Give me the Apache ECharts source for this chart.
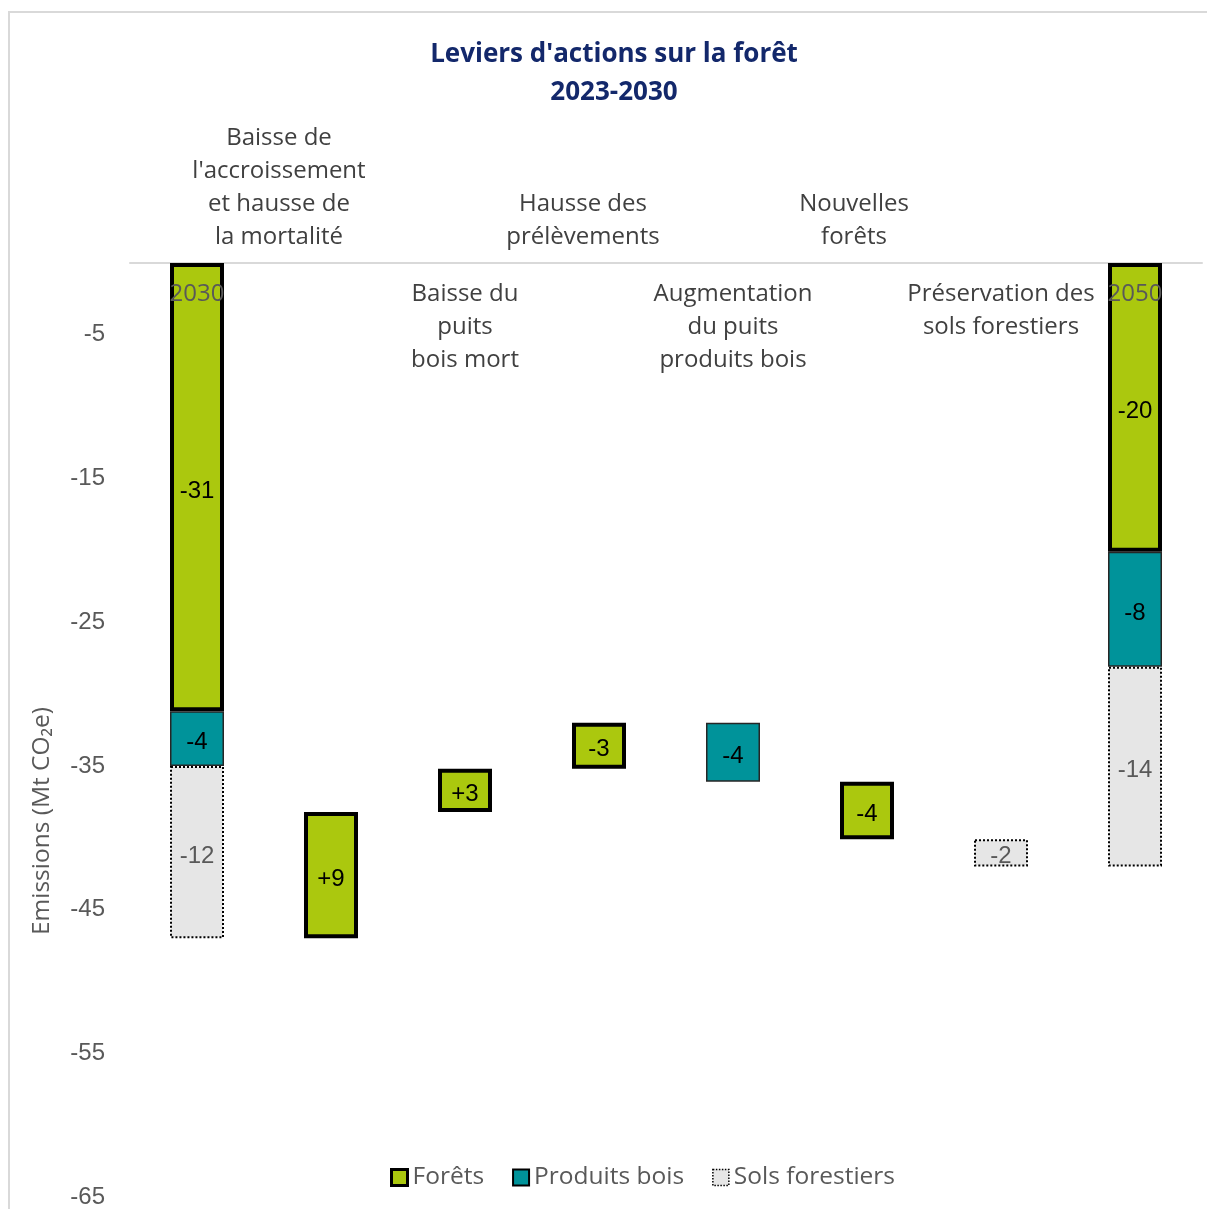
<!DOCTYPE html>
<html>
<head>
<meta charset="utf-8">
<script src="https://cdn.jsdelivr.net/npm/echarts@6/dist/echarts.min.js"></script>
<style>
  html, body { margin: 0; padding: 0; background: #fff; }
  #chart { width: 1207px; height: 1209px; }
</style>
</head>
<body>
<div id="chart"></div>
<script>
const categories = [
  '2030',
  "Baisse de\nl'accroissement\net hausse de\nla mortalité",
  'Baisse du\npuits\nbois mort',
  'Hausse des\nprélèvements',
  'Augmentation\ndu puits\nproduits bois',
  'Nouvelles\nforêts',
  'Préservation des\nsols forestiers',
  '2050'
]
// top of each floating box (invisible base of the stack)
const baseValues = ['-', -38.2, -35.2, -32.0, -32.0, -36.1, -40.1, '-']
const foretsValues = [-31.2, -8.8, -3.0, -3.2, '-', -4.0, '-', -20.1]
const produitsValues = [-3.8, '-', '-', '-', -4.1, '-', '-', -8.0]
const solsValues = [-12.0, '-', '-', '-', '-', '-', -1.9, -13.9]
// labels printed in the boxes
const foretsLabels = ['-31', '+9', '+3', '-3', '', '-4', '', '-20']
const produitsLabels = ['-4', '', '', '', '-4', '', '', '-8']
const solsLabels = ['-12', '', '', '', '', '', '-2', '-14']
// y axis
const yMin = -65
const yMax = 0
const yStep = 10

const catFont = '"Open Sans", sans-serif'
const numFont = '"Liberation Sans", Arial, sans-serif'
const catText = { fontSize: 24, lineHeight: 33, color: '#404040', fontFamily: catFont }

// step labels above the axis line, the others hang below it
const isAbove = i => i % 2 === 1 && i < categories.length - 1

const boxLabel = (color, texts) => ({
  show: true,
  position: 'inside',
  offset: [0, 4],
  color: color,
  fontSize: 24,
  fontFamily: numFont,
  formatter: p => texts[p.dataIndex]
})

const chart = echarts.init(document.getElementById('chart'))

const option = {
  animation: false,
  title: {
    text: "Leviers d'actions sur la forêt\n2023-2030",
    left: 609,
    top: 31,
    textAlign: 'center',
    textStyle: {
      color: '#13286b',
      fontFamily: catFont,
      fontWeight: 'bold',
      fontSize: 26,
      lineHeight: 38
    }
  },
  grid: {
    left: 130,
    right: 5,
    top: 263,
    bottom: 10
  },
  legend: {
    data: [
      { name: 'Forêts', itemStyle: { color: '#abc80e', borderColor: '#000', borderWidth: 3 } },
      { name: 'Produits bois', itemStyle: { color: '#00939a', borderColor: '#000', borderWidth: 2 } },
      { name: 'Sols forestiers', itemStyle: { color: '#e6e6e6', borderColor: '#000', borderWidth: 1.5, borderType: 'dotted' } }
    ],
    left: 385,
    top: 1160,
    itemWidth: 16,
    itemHeight: 16,
    itemGap: 28,
    icon: 'rect',
    textStyle: {
      color: '#595959',
      fontSize: 24.5,
      fontFamily: catFont
    }
  },
  xAxis: [
    {
      type: 'category',
      data: categories,
      position: 'top',
      axisLine: { onZero: false, lineStyle: { color: '#d9d9d9', width: 2 } },
      axisTick: { show: false },
      axisLabel: Object.assign({}, catText, {
        interval: 0,
        margin: 9,
        formatter: (v, i) => isAbove(i) ? v.split('\n').map(s => '{s' + i + '|' + s + '}').join('\n') : '',
        // these text boxes sit a little left of their bars
        rich: {
          s1: Object.assign({ padding: [0, 104, 0, 0] }, catText),
          s3: Object.assign({ padding: [0, 32, 0, 0] }, catText),
          s5: Object.assign({ padding: [0, 26, 0, 0] }, catText)
        }
      })
    },
    {
      type: 'category',
      data: categories,
      position: 'bottom',
      offset: -936,
      z: 10,
      axisLine: { show: false, onZero: false },
      axisTick: { show: false },
      axisLabel: Object.assign({}, catText, {
        interval: 0,
        margin: 17,
        color: (v, i) => (i === 0 || i === categories.length - 1) ? '#595959' : '#404040',
        formatter: (v, i) => isAbove(i) ? '' : v
      })
    }
  ],
  yAxis: {
    type: 'value',
    min: yMin,
    max: yMax,
    interval: yStep,
    splitLine: { show: false },
    axisLine: { show: false },
    axisTick: { show: false },
    axisLabel: {
      margin: 25,
      padding: [6, 0, 0, 0],
      fontSize: 24,
      color: '#595959',
      fontFamily: numFont,
      formatter: v => v === 0 ? '' : v
    }
  },
  graphic: [
    {
      type: 'rect',
      z: -1,
      shape: { x: 9, y: 12, width: 1400, height: 1400 },
      style: { fill: 'none', stroke: '#d9d9d9', lineWidth: 2 }
    },
    {
      type: 'text',
      x: 42,
      y: 821,
      rotation: Math.PI / 2,
      style: {
        text: 'Emissions (Mt CO₂e)',
        fill: '#595959',
        fontSize: 24.5,
        fontFamily: catFont,
        align: 'center',
        verticalAlign: 'middle'
      }
    }
  ],
  series: [
    {
      name: 'base',
      type: 'bar',
      stack: 'w',
      barWidth: 54,
      silent: true,
      itemStyle: { color: 'transparent' },
      data: baseValues
    },
    {
      name: 'Forêts',
      type: 'bar',
      stack: 'w',
      barWidth: 54,
      itemStyle: { color: '#abc80e', borderColor: '#000', borderWidth: 4 },
      label: boxLabel('#000', foretsLabels),
      data: foretsValues
    },
    {
      name: 'Produits bois',
      type: 'bar',
      stack: 'w',
      barWidth: 54,
      itemStyle: { color: '#00939a', borderColor: '#262626', borderWidth: 1.5 },
      label: boxLabel('#000', produitsLabels),
      data: produitsValues
    },
    {
      name: 'Sols forestiers',
      type: 'bar',
      stack: 'w',
      barWidth: 54,
      itemStyle: { color: '#e6e6e6', borderColor: '#000', borderWidth: 2, borderType: 'dotted' },
      label: boxLabel('#595959', solsLabels),
      data: solsValues
    }
  ]
}

chart.setOption(option)
</script>
</body>
</html>
